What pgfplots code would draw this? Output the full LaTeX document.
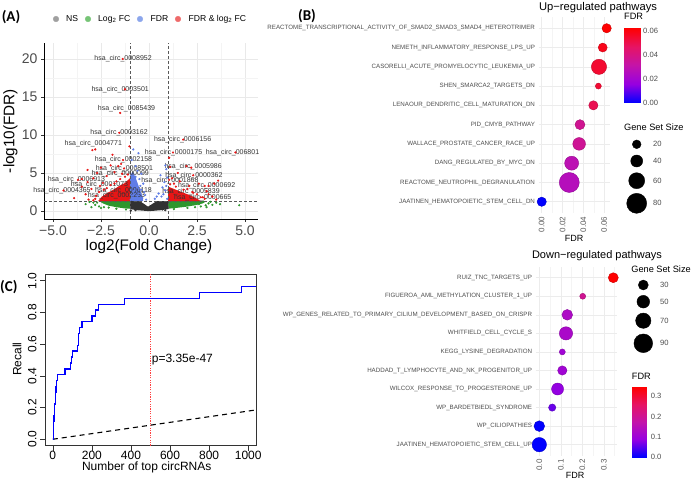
\documentclass[border=0pt]{standalone}
\usepackage{fontspec}
\setmainfont{Liberation Sans}
\newfontfamily\carlito{Carlito}
\usepackage{pgfplots}
\pgfplotsset{compat=1.18}
\definecolor{grayP}{RGB}{50,50,50}
\definecolor{greenP}{RGB}{45,150,45}
\definecolor{blueP}{RGB}{95,125,230}
\definecolor{redP}{RGB}{232,22,22}
\definecolor{legNS}{RGB}{160,160,160}
\definecolor{legG}{RGB}{118,196,118}
\definecolor{legB}{RGB}{140,166,236}
\definecolor{legR}{RGB}{238,106,106}
\pgfplotsset{colormap={bluered}{rgb255=(0,0,255) rgb255=(150,0,225) rgb255=(195,20,170) rgb255=(230,20,100) rgb255=(255,0,0)}}
\newcommand\fs[1]{\fontsize{#1}{#1}\selectfont}
\begin{document}
\begin{tikzpicture}
\useasboundingbox (0,0) rectangle (691pt,480pt);

% ---------------- Panel A : volcano ----------------
\begin{axis}[at={(44pt,261pt)}, anchor=south west, scale only axis, width=214pt, height=176pt,
 xmin=-5.469, xmax=5.677, ymin=-1.053, ymax=22.1,
 axis x line*=bottom, axis y line*=left, axis line style={-,black,line width=0.6pt},
 xtick={-5,-2.5,0,2.5,5}, xticklabels={−5.0,−2.5,0.0,2.5,5.0},
 minor xtick={-3.75,-1.25,1.25,3.75}, ytick={0,5,10,15,20}, minor ytick={2.5,7.5,12.5,17.5},
 grid=both, major grid style={gray!17, line width=0.55pt}, minor grid style={gray!9,line width=0.3pt},
 tick align=outside, major tick length=3pt, minor tick length=0pt, tick style={black!80, line width=0.5pt},
 ticklabel style={font=\fs{14}, text=black!70},
 /pgf/number format/assume math mode=true, clip=false]
% dense regions
\addplot[fill=grayP, draw=none, forget plot] coordinates {(-1,0.25) (-1,1.3) (-0.47,1.3) (-0.05,0.57) (0.4,1.3) (1,1.3) (1,0.25) (0.6,0.1) (0,-0.02) (-0.6,0.1)} --cycle;
\addplot[fill=greenP, draw=none, forget plot] coordinates {(-1,0.3) (-1,1.3) (-2.6,1.3) (-2.4,1.0) (-2.1,0.7) (-1.7,0.5) (-1.3,0.35)} --cycle;
\addplot[fill=greenP, draw=none, forget plot] coordinates {(1,0.3) (1,1.3) (3.0,1.3) (2.8,1.0) (2.4,0.75) (1.9,0.55) (1.4,0.4)} --cycle;
\addplot[fill=blueP, draw=none, forget plot] coordinates {(-1,1.3) (-1,4.6) (-0.85,5.2) (-0.7,4.4) (-0.5,3.0) (-0.35,2.0) (-0.3,1.3)} --cycle;
\addplot[fill=redP, draw=none, forget plot] coordinates {(-1,1.3) (-2.65,1.3) (-2.45,1.9) (-2.15,2.4) (-1.85,2.8) (-1.55,3.3) (-1.25,3.7) (-1,4.3)} --cycle;
\addplot[fill=redP, draw=none, forget plot] coordinates {(1,1.3) (2.7,1.3) (2.45,1.7) (2.1,2.1) (1.7,2.5) (1.3,2.9) (1,3.2)} --cycle;
% scattered points
\addplot[only marks, mark=*, mark size=0.9pt, color=grayP] coordinates {(-0.95,0.05) (0.85,0.1) (-0.2,0.3) (0.3,0.25) (0.95,1.1) (-0.9,1.2) (-0.7,0.1) (0.7,0.2)};
\addplot[only marks, mark=*, mark size=0.9pt, color=greenP] coordinates {(-2.8,0.8) (-3.0,0.5) (-2.6,0.6) (-2.35,0.5) (-2.9,1.1) (-3.3,0.9) (-1.7,0.3) (-2.1,0.45) (3.1,1.0) (3.3,0.8) (3.0,0.5) (2.7,0.6) (3.5,1.1) (2.4,0.5) (4.7,0.75) (3.7,0.9) (2.95,0.75) (2.0,0.4) (-3.1,1.2) (-2.7,1.1) (-2.5,0.4) (3.2,1.2) (2.6,0.9) (-1.2,0.2) (1.3,0.25)};
\addplot[only marks, mark=*, mark size=0.9pt, color=blueP] coordinates {(-0.82,8.1) (-0.55,7.6) (-0.9,6.7) (-0.7,5.9) (-0.4,4.9) (-0.6,5.3) (-0.85,4.6) (-0.5,4.2) (-0.3,3.6) (-0.75,3.9) (-0.95,3.4) (-0.6,3.1) (-0.4,2.8) (-0.2,2.1) (-0.8,2.6) (-0.55,2.3) (-0.9,2.0) (-0.35,1.7) (-0.65,1.6) (-0.15,1.5) (-0.95,1.5) (-0.7,4.5) (-0.45,3.3) (-0.25,2.5) (-0.8,3.3) (-0.6,2.0) (0.85,6.0) (0.9,5.5) (0.6,4.7) (0.7,3.1) (0.5,2.3) (0.85,2.7) (0.3,1.6) (0.65,1.9) (0.95,1.6) (0.4,1.9) (0.8,3.8) (0.95,4.4) (0.75,2.2) (0.9,3.3)};
\addplot[only marks, mark=*, mark size=0.9pt, color=redP] coordinates {(-1.37,20.0) (-1.25,16.0) (-1.5,12.9) (-1.55,10.3) (-2.8,8.1) (1.78,9.4) (1.25,7.7) (4.5,7.7) (-1.35,6.7) (-1.3,5.6) (-1.4,4.9) (2.2,5.7) (2.3,4.7) (-3.7,4.1) (1.05,4.1) (-2.55,3.3) (3.1,3.3) (-4.45,2.7) (-1.3,2.6) (2.25,2.5) (-1.75,2.0) (2.8,1.8)
 (-1.02,8.5) (-2.95,8.0) (-1.9,7.4) (-1.45,6.2) (-2.0,6.0) (-1.6,5.9) (-2.5,5.7) (-3.2,5.4) (-2.7,5.0) (-3.5,4.2) (-2.2,4.6) (-1.8,5.1) (-1.1,4.8) (-2.9,4.3) (-3.2,3.8) (-3.3,2.2) (-3.5,3.2) (-2.4,3.7) (-2.6,2.5) (-3.0,2.9) (-3.9,1.7) (-2.8,1.6) (-2.2,3.0) (-1.7,3.9) (-1.5,4.2) (-1.25,4.5) (-2.0,3.4) (-2.35,2.8) (-2.75,2.0) (-3.15,1.5) (-1.8,3.6) (-2.9,1.4)
 (1.05,7.0) (1.1,5.8) (1.95,5.9) (1.5,5.0) (3.6,4.0) (3.4,3.6) (2.9,3.3) (1.2,4.3) (1.1,3.5) (2.6,3.6) (1.6,3.9) (2.0,2.9) (2.3,2.4) (3.1,2.2) (3.3,1.9) (1.4,3.2) (1.8,2.8) (2.7,1.8) (3.5,1.5) (2.5,2.2) (2.9,1.6) (1.3,3.6) (2.1,3.3) (3.0,2.6)};
% thresholds
\addplot[densely dashed, black!65, line width=0.5pt] coordinates {(-1,-1.053) (-1,22.1)};
\addplot[densely dashed, black!65, line width=0.5pt] coordinates {(1,-1.053) (1,22.1)};
\addplot[densely dashed, black!65, line width=0.5pt] coordinates {(-5.469,1.301) (5.677,1.301)};
% labels
\begin{scope}[every node/.style={font=\fs{7}, text=black!80, inner sep=0pt}]
\node at (axis cs:-1.35,20.0) {hsa\_circ\_0008952};
\node at (axis cs:-1.5,16.0) {hsa\_circ\_0003501};
\node at (axis cs:-1.17,13.4) {hsa\_circ\_0085439};
\node at (axis cs:-1.56,10.35) {hsa\_circ\_0003162};
\node at (axis cs:-2.9,8.8) {hsa\_circ\_0004771};
\node at (axis cs:1.75,9.4) {hsa\_circ\_0006156};
\node at (axis cs:1.28,7.7) {hsa\_circ\_0000175};
\node[anchor=west] at (axis cs:2.95,7.7) {hsa\_circ\_006801};
\node at (axis cs:-1.33,6.7) {hsa\_circ\_0002158};
\node at (axis cs:-1.28,5.62) {hsa\_circ\_0008501};
\node at (axis cs:-1.5,4.85) {hsa\_circ\_0000099};
\node at (axis cs:2.3,5.8) {hsa\_circ\_0005986};
\node at (axis cs:2.34,4.7) {hsa\_circ\_0000362};
\node at (axis cs:-3.78,4.1) {hsa\_circ\_0006913};
\node at (axis cs:1.09,4.05) {hsa\_circ\_0001868};
\node at (axis cs:-2.58,3.4) {hsa\_circ\_0001073};
\node at (axis cs:3.0,3.3) {hsa\_circ\_0000692};
\node at (axis cs:-4.53,2.67) {hsa\_circ\_0004365};
\node at (axis cs:-1.33,2.67) {hsa\_circ\_0000118};
\node at (axis cs:2.19,2.54) {hsa\_circ\_0005839};
\node at (axis cs:-1.7,1.97) {hsa\_circ\_0002253};
\node at (axis cs:2.8,1.8) {hsa\_circ\_0000665};
\end{scope}
\end{axis}

% ---------------- Panel C : recall ----------------
\begin{axis}[at={(45pt,34.4pt)}, anchor=south west, scale only axis, width=211pt, height=171.2pt,
 xmin=-40, xmax=1040, ymin=-0.04, ymax=1.04,
 xtick={0,200,400,600,800,1000}, ytick={0,0.2,0.4,0.6,0.8,1},
 tick pos=left, tick align=outside, major tick length=5pt,
 axis line style={black!80, line width=0.6pt}, tick style={black!80, line width=0.6pt},
 ticklabel style={font=\fs{12}},
 xticklabel style={yshift=3.5pt},
 yticklabel style={rotate=90, anchor=south, /pgf/number format/fixed, /pgf/number format/fixed zerofill, /pgf/number format/precision=1},
 /pgf/number format/1000 sep={},
 /pgf/number format/assume math mode=true]
\addplot[red!75, line width=0.4pt, dash pattern=on 1.2pt off 1.2pt] coordinates {(500,-0.04) (500,1.04)};
\addplot[black, line width=1.1pt, dash pattern=on 5pt off 4pt] coordinates {(0,0) (1040,0.185)};
\addplot[const plot, blue, line width=1.3pt] coordinates {
(0,0) (2,0.037) (3,0.074) (5,0.111) (6,0.148) (8,0.185) (10,0.222) (13,0.259) (15,0.296) (17,0.333) (19,0.370) (25,0.407)
(62,0.444) (90,0.481) (97,0.519) (102,0.556) (125,0.593) (130,0.630) (133,0.667) (138,0.704) (150,0.741)
(200,0.778) (218,0.815) (233,0.852) (368,0.889) (752,0.926) (965,0.963) (1040,0.963)};
\node[anchor=west, font=\fs{12}, inner sep=0pt] at (axis cs:506,0.5) {p=3.35e-47};
\end{axis}

% ---------------- Panel B : up-regulated ----------------
\begin{axis}[at={(538.5pt,266.7pt)}, anchor=south west, scale only axis, width=71.4pt, height=196.6pt,
 xmin=-0.0031, xmax=0.0656, ymin=0.4, ymax=10.6,
 xtick={0,0.02,0.04,0.06}, minor xtick={0.01,0.03,0.05}, ytick={1,2,3,4,5,6,7,8,9,10},
 scaled x ticks=false,
 yticklabels={JAATINEN\_HEMATOPOIETIC\_STEM\_CELL\_DN, REACTOME\_NEUTROPHIL\_DEGRANULATION, DANG\_REGULATED\_BY\_MYC\_DN, WALLACE\_PROSTATE\_CANCER\_RACE\_UP, PID\_CMYB\_PATHWAY, LENAOUR\_DENDRITIC\_CELL\_MATURATION\_DN, SHEN\_SMARCA2\_TARGETS\_DN, CASORELLI\_ACUTE\_PROMYELOCYTIC\_LEUKEMIA\_UP, NEMETH\_INFLAMMATORY\_RESPONSE\_LPS\_UP, REACTOME\_TRANSCRIPTIONAL\_ACTIVITY\_OF\_SMAD2\_SMAD3\_SMAD4\_HETEROTRIMER},
 grid=both, major grid style={gray!15, line width=0.6pt}, minor grid style={gray!9, line width=0.35pt},
 axis line style={draw=none}, major tick length=0pt, minor tick length=0pt,
 xticklabel style={rotate=90, anchor=east, font=\fs{8}, text=black!65, /pgf/number format/fixed, /pgf/number format/fixed zerofill, /pgf/number format/precision=2},
 yticklabel style={font=\fs{6.2}, text=black!70},
 /pgf/number format/assume math mode=true,
 colormap name=bluered, point meta min=0, point meta max=0.0625, clip=true]
\addplot[scatter, only marks, mark=*, point meta=\thisrow{f},
 visualization depends on={\thisrow{r} \as \rad},
 scatter/@pre marker code/.append style={/tikz/mark size=\rad}] table[x=f, y=y] {
y f r
10 0.0625 4.65
9 0.0587 4.5
8 0.0551 7.6
7 0.0545 3.0
6 0.0497 4.65
5 0.0368 5.0
4 0.0360 6.35
3 0.0288 7.0
2 0.0265 10.0
1 0.0 4.65
};
\end{axis}

% ---------------- Panel B : down-regulated ----------------
\begin{axis}[at={(535.6pt,24.2pt)}, anchor=south west, scale only axis, width=81.4pt, height=189.2pt,
 xmin=-0.0172, xmax=0.3612, ymin=0.4, ymax=10.6,
 xtick={0,0.1,0.2,0.3}, minor xtick={0.05,0.15,0.25,0.35}, ytick={1,2,3,4,5,6,7,8,9,10},
 scaled x ticks=false,
 yticklabels={JAATINEN\_HEMATOPOIETIC\_STEM\_CELL\_UP, WP\_CILIOPATHIES, WP\_BARDETBIEDL\_SYNDROME, WILCOX\_RESPONSE\_TO\_PROGESTERONE\_UP, HADDAD\_T\_LYMPHOCYTE\_AND\_NK\_PROGENITOR\_UP, KEGG\_LYSINE\_DEGRADATION, WHITFIELD\_CELL\_CYCLE\_S, WP\_GENES\_RELATED\_TO\_PRIMARY\_CILIUM\_DEVELOPMENT\_BASED\_ON\_CRISPR, FIGUEROA\_AML\_METHYLATION\_CLUSTER\_1\_UP, RUIZ\_TNC\_TARGETS\_UP},
 grid=both, major grid style={gray!15, line width=0.6pt}, minor grid style={gray!9, line width=0.35pt},
 axis line style={draw=none}, major tick length=0pt, minor tick length=0pt,
 xticklabel style={rotate=90, anchor=east, font=\fs{8}, text=black!65, /pgf/number format/fixed, /pgf/number format/fixed zerofill, /pgf/number format/precision=1},
 yticklabel style={font=\fs{6.2}, text=black!70},
 /pgf/number format/assume math mode=true,
 colormap name=bluered, point meta min=0, point meta max=0.344, clip=true]
\addplot[scatter, only marks, mark=*, point meta=\thisrow{f},
 visualization depends on={\thisrow{r} \as \rad},
 scatter/@pre marker code/.append style={/tikz/mark size=\rad}] table[x=f, y=y] {
y f r
10 0.344 5.0
9 0.2019 3.0
8 0.130 5.35
7 0.124 6.65
6 0.107 3.0
5 0.107 4.65
4 0.085 6.0
3 0.060 3.65
2 0.0 5.35
1 0.0 7.2
};
\end{axis}

% ---------------- Overlay (pixel coordinates) ----------------
\begin{axis}[at={(0pt,0pt)}, anchor=south west, scale only axis, width=691pt, height=480pt,
 xmin=0, xmax=691, ymin=0, ymax=480, y dir=reverse, hide axis, clip=false,
 colormap name=bluered, point meta min=0, point meta max=1]
% legend of panel A
\addplot[only marks, mark=*, mark size=2.8pt, color=legNS] coordinates {(56,19)};
\addplot[only marks, mark=*, mark size=2.8pt, color=legG] coordinates {(88,19)};
\addplot[only marks, mark=*, mark size=2.8pt, color=legB] coordinates {(140,19)};
\addplot[only marks, mark=*, mark size=2.8pt, color=legR] coordinates {(178,19)};
\begin{scope}[every node/.style={anchor=west, font=\fs{8.6}, inner sep=0pt}]
\node at (axis cs:66,19) {NS};
\node at (axis cs:98,19) {Log\textsubscript{2} FC};
\node at (axis cs:150.5,19) {FDR};
\node at (axis cs:188.5,19) {FDR \& log\textsubscript{2} FC};
\end{scope}
% panel letters
\node[font=\carlito\bfseries\fs{15}, inner sep=0pt] at (axis cs:11,17) {(A)};
\node[font=\carlito\bfseries\fs{15}, inner sep=0pt] at (axis cs:307,16) {(B)};
\node[font=\carlito\bfseries\fs{15}, inner sep=0pt, anchor=west] at (axis cs:0,287) {(C)};
% axis titles
\node[font=\fs{15.3}] at (axis cs:149,246.7) {log2(Fold Change)};
\node[font=\fs{15.3}, rotate=90] at (axis cs:10.5,131) {-log10(FDR)};
\node[font=\fs{12}] at (axis cs:146.7,467.5) {Number of top circRNAs};
\node[font=\fs{12}, rotate=90] at (axis cs:17,359) {Recall};
\node[font=\fs{9}] at (axis cs:574,238.3) {FDR};
\node[font=\fs{9}] at (axis cs:575,475) {FDR};
\node[font=\fs{11.2}] at (axis cs:598,7.5) {Up−regulated pathways};
\node[font=\fs{11}] at (axis cs:597,256) {Down−regulated pathways};
% colour bars
\addplot[surf, shader=interp, mesh/cols=2, point meta=\thisrow{c}] table {
x y c
624 102.7 0
640.7 102.7 0
624 27.7 1
640.7 27.7 1
};
\addplot[surf, shader=interp, mesh/cols=2, point meta=\thisrow{c}] table {
x y c
631.7 457.3 0
646 457.3 0
631.7 387.1 1
646 387.1 1
};
\begin{scope}[every node/.style={anchor=west, font=\fs{7.6}, text=black!70, inner sep=0pt}]
\node at (axis cs:643,30.7) {0.06};
\node at (axis cs:643,54.7) {0.04};
\node at (axis cs:643,78.7) {0.02};
\node at (axis cs:643,102.7) {0.00};
\node at (axis cs:650.7,396) {0.3};
\node at (axis cs:650.7,416.5) {0.2};
\node at (axis cs:650.7,436.9) {0.1};
\node at (axis cs:650.7,457.3) {0.0};
\node at (axis cs:653,144.3) {20};
\node at (axis cs:653,161) {40};
\node at (axis cs:653,180.7) {60};
\node at (axis cs:653,203.3) {80};
\node at (axis cs:660,285) {30};
\node at (axis cs:660,301.7) {50};
\node at (axis cs:660,320.7) {70};
\node at (axis cs:660,343.3) {90};
\end{scope}
\begin{scope}[every node/.style={anchor=west, font=\fs{9.2}, inner sep=0pt}]
\node at (axis cs:624,16.7) {FDR};
\node at (axis cs:624,127.3) {Gene Set Size};
\node at (axis cs:631.2,269.3) {Gene Set Size};
\node at (axis cs:631.7,376.7) {FDR};
\end{scope}
% size keys
\addplot[only marks, mark=*, black, mark size=4.35pt] coordinates {(636.7,144.3)};
\addplot[only marks, mark=*, black, mark size=6pt] coordinates {(636.7,161)};
\addplot[only marks, mark=*, black, mark size=8pt] coordinates {(636.7,180.7)};
\addplot[only marks, mark=*, black, mark size=10pt] coordinates {(636.7,203.3)};
\addplot[only marks, mark=*, black, mark size=5pt] coordinates {(643.3,285)};
\addplot[only marks, mark=*, black, mark size=6.35pt] coordinates {(643.3,301.7)};
\addplot[only marks, mark=*, black, mark size=7.65pt] coordinates {(643.3,320.7)};
\addplot[only marks, mark=*, black, mark size=9.35pt] coordinates {(643.3,343.3)};
\end{axis}
\end{tikzpicture}
\end{document}
